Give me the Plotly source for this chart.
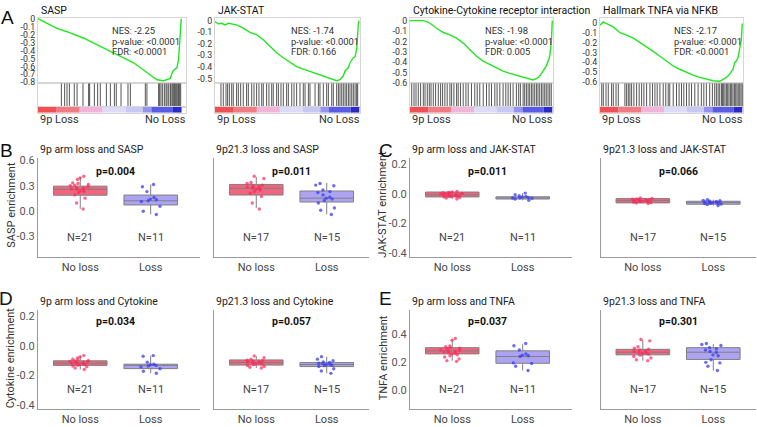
import plotly.graph_objects as go

W, H = 757, 427
FONT = "Roboto"

# ======================= Panel A : GSEA data =======================
gsea_titles = ["SASP", "JAK-STAT", "Cytokine-Cytokine receptor interaction", "Hallmark TNFA via NFKB"]
gsea_nes = ["-2.25", "-1.74", "-1.98", "-2.17"]
gsea_pval = ["<0.0001", "<0.0001", "<0.0001", "<0.0001"]
gsea_fdr = ["<0.0001", "0.166", "0.005", "<0.0001"]
gsea_tickvals = [
    [0, -0.1, -0.2, -0.3, -0.4, -0.5, -0.6, -0.7, -0.8],
    [0, -0.1, -0.2, -0.3, -0.4, -0.5],
    [0, -0.1, -0.2, -0.3, -0.4, -0.5, -0.6],
    [0, -0.1, -0.2, -0.3, -0.4, -0.5, -0.6],
]
gsea_list_end = [0.97, 0.995, 0.995, 0.995]

sasp_rank = [0, 0.083, 0.128, 0.196, 0.309, 0.421, 0.534, 0.646, 0.736, 0.804, 0.849, 0.894,
             0.912, 0.939, 0.95, 0.962, 0.968]
sasp_es = [0, -0.082, -0.123, -0.164, -0.246, -0.349, -0.451, -0.554, -0.677, -0.767, -0.78, -0.75,
           -0.656, -0.615, -0.51, -0.226, 0]
sasp_hits = [0.158, 0.180, 0.196, 0.212, 0.245, 0.264, 0.304, 0.342, 0.349, 0.381, 0.403, 0.421,
             0.462, 0.489, 0.516, 0.529, 0.561, 0.608, 0.624, 0.725, 0.736, 0.815, 0.822, 0.831,
             0.842, 0.854, 0.865, 0.872, 0.883, 0.894, 0.899, 0.908, 0.917, 0.921, 0.928, 0.935,
             0.944, 0.950, 0.957, 0.964]

jak_rank = [0, 0.023, 0.046, 0.069, 0.092, 0.115, 0.149, 0.195, 0.241, 0.287, 0.333, 0.379, 0.425,
            0.471, 0.517, 0.563, 0.609, 0.655, 0.701, 0.747, 0.793, 0.839, 0.862, 0.885, 0.897,
            0.920, 0.931, 0.954, 0.966, 0.977, 0.989, 0.993]
jak_es = [-0.008, -0.028, -0.023, -0.037, -0.023, -0.031, -0.037, -0.065, -0.102, -0.122, -0.165,
          -0.222, -0.278, -0.321, -0.358, -0.398, -0.420, -0.440, -0.463, -0.483, -0.500, -0.520,
          -0.511, -0.477, -0.435, -0.406, -0.364, -0.321, -0.313, -0.25, -0.023, 0]
jak_hits = [0.041, 0.057, 0.076, 0.087, 0.099, 0.115, 0.126, 0.149, 0.161, 0.177, 0.195, 0.218,
            0.230, 0.253, 0.269, 0.287, 0.303, 0.322, 0.333, 0.356, 0.372, 0.391, 0.402, 0.425,
            0.437, 0.455, 0.471, 0.494, 0.506, 0.529, 0.545, 0.563, 0.586, 0.609, 0.621, 0.644,
            0.655, 0.690, 0.713, 0.724, 0.747, 0.770, 0.782, 0.805, 0.816, 0.839, 0.851, 0.862,
            0.874, 0.885, 0.897, 0.908, 0.920, 0.931, 0.943, 0.954, 0.966, 0.977, 0.984]

cyto_rank = [0, 0.047, 0.093, 0.116, 0.140, 0.186, 0.233, 0.279, 0.326, 0.372, 0.419, 0.465,
             0.512, 0.558, 0.605, 0.651, 0.698, 0.744, 0.791, 0.837, 0.860, 0.884, 0.907, 0.930,
             0.953, 0.977, 0.988, 0.995]
cyto_es = [0, -0.003, 0, -0.009, -0.025, -0.073, -0.114, -0.136, -0.167, -0.215, -0.278, -0.341,
           -0.388, -0.420, -0.452, -0.483, -0.505, -0.524, -0.537, -0.562, -0.568, -0.556, -0.530,
           -0.483, -0.436, -0.341, -0.215, 0]
cyto_hits = [0.012, 0.028, 0.042, 0.058, 0.074, 0.093, 0.105, 0.121, 0.135, 0.147, 0.163, 0.179,
             0.198, 0.214, 0.228, 0.244, 0.260, 0.279, 0.291, 0.307, 0.326, 0.337, 0.353, 0.372,
             0.391, 0.407, 0.430, 0.453, 0.470, 0.488, 0.512, 0.535, 0.553, 0.570, 0.593, 0.609,
             0.628, 0.651, 0.670, 0.686, 0.702, 0.721, 0.744, 0.760, 0.772, 0.791, 0.802, 0.814,
             0.826, 0.837, 0.849, 0.860, 0.872, 0.884, 0.895, 0.907, 0.919, 0.930, 0.942, 0.953,
             0.965, 0.977, 0.988]

tnfa_rank = [0, 0.012, 0.023, 0.035, 0.047, 0.093, 0.140, 0.186, 0.233, 0.279, 0.326, 0.372,
             0.419, 0.465, 0.512, 0.558, 0.605, 0.651, 0.698, 0.744, 0.791, 0.837, 0.860, 0.884,
             0.907, 0.930, 0.942, 0.953, 0.965, 0.977, 0.988, 0.995]
tnfa_es = [-0.026, -0.010, 0.007, -0.003, -0.010, -0.043, -0.102, -0.125, -0.157, -0.2, -0.239,
           -0.289, -0.338, -0.387, -0.436, -0.469, -0.502, -0.528, -0.551, -0.567, -0.584, -0.590,
           -0.567, -0.551, -0.518, -0.469, -0.403, -0.387, -0.354, -0.272, -0.174, -0.010]
tnfa_hits = [0.012, 0.023, 0.042, 0.058, 0.081, 0.093, 0.112, 0.128, 0.174, 0.186, 0.198, 0.209,
             0.221, 0.237, 0.256, 0.274, 0.291, 0.307, 0.326, 0.349, 0.367, 0.384, 0.400, 0.419,
             0.442, 0.460, 0.477, 0.488, 0.512, 0.535, 0.553, 0.570, 0.586, 0.605, 0.623, 0.640,
             0.663, 0.686, 0.709, 0.726, 0.744, 0.767, 0.786, 0.802, 0.814, 0.826, 0.837, 0.849,
             0.856, 0.865, 0.874, 0.884, 0.893, 0.902, 0.912, 0.921, 0.930, 0.940, 0.949, 0.958,
             0.967, 0.977, 0.986, 0.995]

ramp_edges = [0, 0.13, 0.29, 0.45, 0.61, 0.73, 0.79, 0.94, 1.0]
ramp_colors = ["#f24f55", "#f27b83", "#f2b4d8", "#dcdcf8", "#c8c8f5", "#9494f0", "#5a5ae6", "#2a2ac8"]

gsea_rank = [sasp_rank, jak_rank, cyto_rank, tnfa_rank]
gsea_es = [sasp_es, jak_es, cyto_es, tnfa_es]
gsea_hits = [sasp_hits, jak_hits, cyto_hits, tnfa_hits]

# ======================= Panels B-E : box plot data =======================
groups = ["No loss", "Loss"]
# stats: [lower whisker, q1, median, q3, upper whisker]
sasp_arm_noloss_stats = [0.026, 0.188, 0.258, 0.296, 0.405]
sasp_arm_loss_stats = [-0.040, 0.072, 0.122, 0.190, 0.316]
sasp_9p21_noloss_stats = [0.037, 0.190, 0.270, 0.316, 0.405]
sasp_9p21_loss_stats = [-0.040, 0.107, 0.153, 0.238, 0.335]
jak_arm_noloss_stats = [-0.036, -0.022, -0.007, 0.011, 0.015]
jak_arm_loss_stats = [-0.045, -0.036, -0.029, -0.021, 0.004]
jak_9p21_noloss_stats = [-0.066, -0.062, -0.047, -0.033, -0.028]
jak_9p21_loss_stats = [-0.080, -0.071, -0.060, -0.051, -0.040]
cyto_arm_noloss_stats = [-0.160, -0.132, -0.117, -0.101, -0.066]
cyto_arm_loss_stats = [-0.185, -0.154, -0.132, -0.124, -0.066]
cyto_9p21_noloss_stats = [-0.150, -0.130, -0.113, -0.095, -0.068]
cyto_9p21_loss_stats = [-0.186, -0.140, -0.126, -0.113, -0.073]
tnfa_arm_noloss_stats = [0.212, 0.261, 0.283, 0.306, 0.365]
tnfa_arm_loss_stats = [0.141, 0.193, 0.242, 0.283, 0.330]
tnfa_9p21_noloss_stats = [0.212, 0.254, 0.273, 0.294, 0.365]
tnfa_9p21_loss_stats = [0.141, 0.221, 0.273, 0.306, 0.332]

sasp_arm_noloss = [0.413, 0.393, 0.374, 0.335, 0.327, 0.316, 0.308, 0.300, 0.289, 0.281, 0.270,
                   0.262, 0.258, 0.250, 0.238, 0.231, 0.219, 0.192, 0.153, 0.095, 0.025]
sasp_arm_loss = [0.316, 0.289, 0.231, 0.161, 0.142, 0.134, 0.122, 0.114, 0.056, -0.002, -0.041]
sasp_9p21_noloss = [0.413, 0.386, 0.339, 0.327, 0.308, 0.296, 0.289, 0.281, 0.273, 0.266, 0.258,
                    0.250, 0.231, 0.212, 0.173, 0.095, 0.025]
sasp_9p21_loss = [0.327, 0.308, 0.300, 0.250, 0.231, 0.219, 0.192, 0.165, 0.153, 0.142, 0.126,
                  0.095, 0.037, 0.010, -0.041]
jak_arm_noloss = [0.015, 0.011, 0.009, 0.006, 0.004, 0.002, 0.000, -0.002, -0.005, -0.007, -0.007,
                  -0.009, -0.011, -0.014, -0.016, -0.018, -0.020, -0.022, -0.025, -0.029, -0.036]
jak_arm_loss = [0.004, -0.007, -0.014, -0.018, -0.022, -0.025, -0.027, -0.029, -0.031, -0.036, -0.045]
jak_9p21_noloss = [-0.028, -0.032, -0.035, -0.037, -0.040, -0.041, -0.043, -0.045, -0.047, -0.048,
                   -0.050, -0.053, -0.054, -0.057, -0.059, -0.062, -0.066]
jak_9p21_loss = [-0.040, -0.045, -0.048, -0.051, -0.053, -0.055, -0.057, -0.059, -0.060, -0.062,
                 -0.064, -0.066, -0.070, -0.073, -0.080]
cyto_arm_noloss = [-0.066, -0.075, -0.082, -0.090, -0.095, -0.099, -0.102, -0.105, -0.108, -0.110,
                   -0.113, -0.116, -0.118, -0.120, -0.123, -0.127, -0.131, -0.136, -0.142, -0.150, -0.160]
cyto_arm_loss = [-0.066, -0.070, -0.110, -0.124, -0.128, -0.132, -0.136, -0.142, -0.155, -0.172, -0.185]
cyto_9p21_noloss = [-0.068, -0.080, -0.090, -0.097, -0.100, -0.104, -0.107, -0.110, -0.113, -0.116,
                    -0.120, -0.123, -0.127, -0.132, -0.140, -0.145, -0.150]
cyto_9p21_loss = [-0.073, -0.090, -0.100, -0.108, -0.113, -0.117, -0.120, -0.124, -0.126, -0.130,
                  -0.134, -0.140, -0.155, -0.170, -0.186]
tnfa_arm_noloss = [0.372, 0.360, 0.318, 0.313, 0.306, 0.302, 0.297, 0.289, 0.285, 0.280, 0.278,
                   0.275, 0.271, 0.266, 0.261, 0.254, 0.247, 0.238, 0.224, 0.212, 0.207]
tnfa_arm_loss = [0.336, 0.320, 0.289, 0.261, 0.252, 0.247, 0.242, 0.196, 0.191, 0.172, 0.141]
tnfa_9p21_noloss = [0.365, 0.355, 0.313, 0.302, 0.294, 0.289, 0.282, 0.278, 0.273, 0.268, 0.264,
                    0.259, 0.252, 0.242, 0.231, 0.219, 0.212]
tnfa_9p21_loss = [0.336, 0.329, 0.322, 0.306, 0.297, 0.289, 0.278, 0.271, 0.254, 0.247, 0.219,
                  0.200, 0.196, 0.172, 0.141]

box_titles = ["9p arm loss and SASP", "9p21.3 loss and SASP", "9p arm loss and JAK-STAT",
              "9p21.3 loss and JAK-STAT", "9p arm loss and Cytokine", "9p21.3 loss and Cytokine",
              "9p arm loss and TNFA", "9p21.3 loss and TNFA"]
box_pvals = ["p=0.004", "p=0.011", "p=0.011", "p=0.066", "p=0.034", "p=0.057", "p=0.037", "p=0.301"]
box_n = [("N=21", "N=11"), ("N=17", "N=15")] * 4
box_points = [(sasp_arm_noloss, sasp_arm_loss), (sasp_9p21_noloss, sasp_9p21_loss),
              (jak_arm_noloss, jak_arm_loss), (jak_9p21_noloss, jak_9p21_loss),
              (cyto_arm_noloss, cyto_arm_loss), (cyto_9p21_noloss, cyto_9p21_loss),
              (tnfa_arm_noloss, tnfa_arm_loss), (tnfa_9p21_noloss, tnfa_9p21_loss)]
box_stats = [(sasp_arm_noloss_stats, sasp_arm_loss_stats), (sasp_9p21_noloss_stats, sasp_9p21_loss_stats),
             (jak_arm_noloss_stats, jak_arm_loss_stats), (jak_9p21_noloss_stats, jak_9p21_loss_stats),
             (cyto_arm_noloss_stats, cyto_arm_loss_stats), (cyto_9p21_noloss_stats, cyto_9p21_loss_stats),
             (tnfa_arm_noloss_stats, tnfa_arm_loss_stats), (tnfa_9p21_noloss_stats, tnfa_9p21_loss_stats)]
ylab_titles = ["SASP enrichment", "JAK-STAT enrichment", "Cytokine enrichment", "TNFA enrichment"]
ytickvals = [[-0.3, 0.0, 0.3, 0.6], [-0.4, -0.2, 0.0, 0.2], [-0.4, -0.2, 0.0, 0.2], [0.0, 0.2, 0.4]]

# ======================= layout helpers =======================
layout = {}
traces = []
annos = []
count = [0]


def new_axes(xpx, ypx, xr, yr, xkw=None, ykw=None):
    count[0] += 1
    s = "" if count[0] == 1 else str(count[0])
    xa = dict(domain=[xpx[0] / W, xpx[1] / W], range=xr, anchor="y" + s, showgrid=False,
              zeroline=False, fixedrange=True)
    ya = dict(domain=[1 - ypx[1] / H, 1 - ypx[0] / H], range=yr, anchor="x" + s, showgrid=False,
              zeroline=False, fixedrange=True)
    if xkw:
        xa.update(xkw)
    if ykw:
        ya.update(ykw)
    layout["xaxis" + s] = xa
    layout["yaxis" + s] = ya
    return "x" + s, "y" + s


def text(x, y, t, size=10.5, color="#222", xanchor="left", bold=False, angle=0, family=FONT):
    if bold:
        t = "<b>" + t + "</b>"
    annos.append(dict(x=x / W, y=1 - y / H, xref="paper", yref="paper", text=t, showarrow=False,
                      xanchor=xanchor, yanchor="middle", textangle=angle,
                      font=dict(size=size, color=color, family=family)))


FRAME = "#d6d6d6"
hidden = dict(showticklabels=False, ticks="", showline=True, mirror=True, linecolor=FRAME, linewidth=1)

# ======================= Panel A =======================
gsea_x = [(38, 186), (215, 360), (410, 553), (600, 743)]
gsea_yr = [[-0.812, 0.012], [-0.542, 0.025], [-0.6, 0.028], [-0.61, 0.049]]
nes_x = [110, 289, 483, 672]

for i in range(4):
    xp = gsea_x[i]
    # running enrichment
    xa, ya = new_axes(xp, (14, 81), [0, 1], gsea_yr[i], xkw=hidden,
                      ykw=dict(showline=True, mirror=True, linecolor=FRAME, ticks="",
                               tickvals=gsea_tickvals[i],
                               ticktext=[("%g" % v) for v in gsea_tickvals[i]],
                               tickfont=dict(size=8.8, color="#333", family=FONT)))
    traces.append(go.Scatter(x=gsea_rank[i], y=gsea_es[i], mode="lines", xaxis=xa, yaxis=ya,
                             line=dict(color="#22e622", width=1.4), hoverinfo="skip"))
    # hits
    xa, ya = new_axes(xp, (81, 105), [0, 1], [0, 1], xkw=hidden, ykw=hidden)
    hx, hy = [], []
    for h in gsea_hits[i]:
        hx += [h, h, None]
        hy += [0, 1, None]
    traces.append(go.Scatter(x=hx, y=hy, mode="lines", xaxis=xa, yaxis=ya,
                             line=dict(color="rgba(30,30,30,0.75)", width=1), hoverinfo="skip"))
    # ranked list colour ramp
    xa, ya = new_axes(xp, (105, 111), [0, 1], [-0.5, 0.5], xkw=hidden, ykw=hidden)
    end = gsea_list_end[i]
    starts = [e * end for e in ramp_edges[:-1]]
    widths = [(ramp_edges[k + 1] - ramp_edges[k]) * end for k in range(len(ramp_colors))]
    traces.append(go.Bar(x=widths, base=starts, y=[0] * len(widths), orientation="h", width=1,
                         marker=dict(color=ramp_colors, line=dict(width=0)), xaxis=xa, yaxis=ya,
                         hoverinfo="skip"))
    # texts
    text(xp[0] + 1, 7, gsea_titles[i], size=10.5, color="#111")
    text(nes_x[i], 27, "NES: " + gsea_nes[i], size=9.4, color="#333")
    text(nes_x[i], 38, "p-value: " + gsea_pval[i], size=9.4, color="#333")
    text(nes_x[i], 48.5, "FDR: " + gsea_fdr[i], size=9.4, color="#333")
    text(xp[0], 118, "9p Loss", size=11, color="#333")
    text(xp[1] + 2, 118, "No Loss", size=11, color="#333", xanchor="right")

# ======================= Panels B-E =======================
col_x = [(38, 200, [-0.6, 1.7]), (214, 369, [-0.6, 1.6]), (410, 572, [-0.6, 1.7]), (600.5, 755.6, [-0.6, 1.6])]
row_y = [(157, 258), (313, 414)]
yranges = [[-0.541, 0.634], [-0.423, 0.242], [-0.429, 0.240], [-0.139, 0.575]]
fills = ["#f0667e", "#aca4f3"]
pt_colors = ["rgba(255,40,90,0.7)", "rgba(60,60,240,0.75)"]
title_y = [149, 304]
p_y = [171, 324]
n_y = [239, 394]

for k in range(8):
    var = k // 2          # 0 SASP, 1 JAK, 2 Cyto, 3 TNFA
    side = k % 2          # 0 arm, 1 9p21.3
    row = 0 if var < 2 else 1
    col = (var % 2) * 2 + side
    x0, x1, xr = col_x[col]
    y0, y1 = row_y[row]
    show_lab = side == 0
    ykw = dict(showline=True, linecolor="#9a9a9a", linewidth=1, ticks="",
               tickvals=ytickvals[var], ticktext=["%.1f" % v for v in ytickvals[var]],
               showticklabels=show_lab, tickfont=dict(size=11, color="#555", family=FONT))
    xkw = dict(type="category", categoryorder="array", categoryarray=groups, showline=True,
               linecolor="#9a9a9a", linewidth=1, ticks="",
               tickfont=dict(size=11, color="#444", family=FONT))
    xa, ya = new_axes((x0, x1), (y0, y1), xr, yranges[var], xkw=xkw, ykw=ykw)
    for g in range(2):
        st = box_stats[k][g]
        traces.append(go.Box(x=[groups[g]], lowerfence=[st[0]], q1=[st[1]], median=[st[2]],
                             q3=[st[3]], upperfence=[st[4]], width=0.76, whiskerwidth=0,
                             fillcolor=fills[g], line=dict(color="#808080", width=1),
                             boxpoints=False, xaxis=xa, yaxis=ya, hoverinfo="skip"))
        pts = box_points[k][g]
        traces.append(go.Box(x=[groups[g]] * len(pts), y=pts, boxpoints="all", jitter=1, pointpos=0,
                             width=0.34, fillcolor="rgba(0,0,0,0)",
                             line=dict(color="rgba(0,0,0,0)", width=0),
                             marker=dict(color=pt_colors[g], size=3.4),
                             xaxis=xa, yaxis=ya, hoverinfo="skip"))
        cx = x0 + (g - xr[0]) / (xr[1] - xr[0]) * (x1 - x0)
        text(cx, n_y[row], box_n[k][g], size=11, color="#444", xanchor="center")
    cmid = x0 + (0.5 - xr[0]) / (xr[1] - xr[0]) * (x1 - x0)
    text(cmid, p_y[row], box_pvals[k], size=10.5, color="#111", xanchor="center", bold=True)
    text(x0, title_y[row], box_titles[k], size=10.5, color="#222")

# y-axis titles
text(12, 205, ylab_titles[0], size=11, color="#333", xanchor="center", angle=-90)
text(383, 205, ylab_titles[1], size=11, color="#333", xanchor="center", angle=-90)
text(10, 362, ylab_titles[2], size=11, color="#333", xanchor="center", angle=-90)
text(383, 362, ylab_titles[3], size=11, color="#333", xanchor="center", angle=-90)

# panel letters
for letter, lx, ly in [("A", 7, 14), ("B", 6, 150), ("C", 386, 150), ("D", 6, 301), ("E", 386, 301)]:
    text(lx, ly, letter, size=19, color="#111", xanchor="center", family="Liberation Sans")

fig = go.Figure(data=traces)
fig.update_layout(**layout)
fig.update_layout(width=W, height=H, margin=dict(l=0, r=0, t=0, b=0), showlegend=False,
                  paper_bgcolor="white", plot_bgcolor="white", boxmode="overlay",
                  annotations=annos, font=dict(family=FONT))
fig.write_html("out.html", config={"displayModeBar": False},
               post_script="document.body.style.margin='0';document.body.style.overflow='hidden';")
